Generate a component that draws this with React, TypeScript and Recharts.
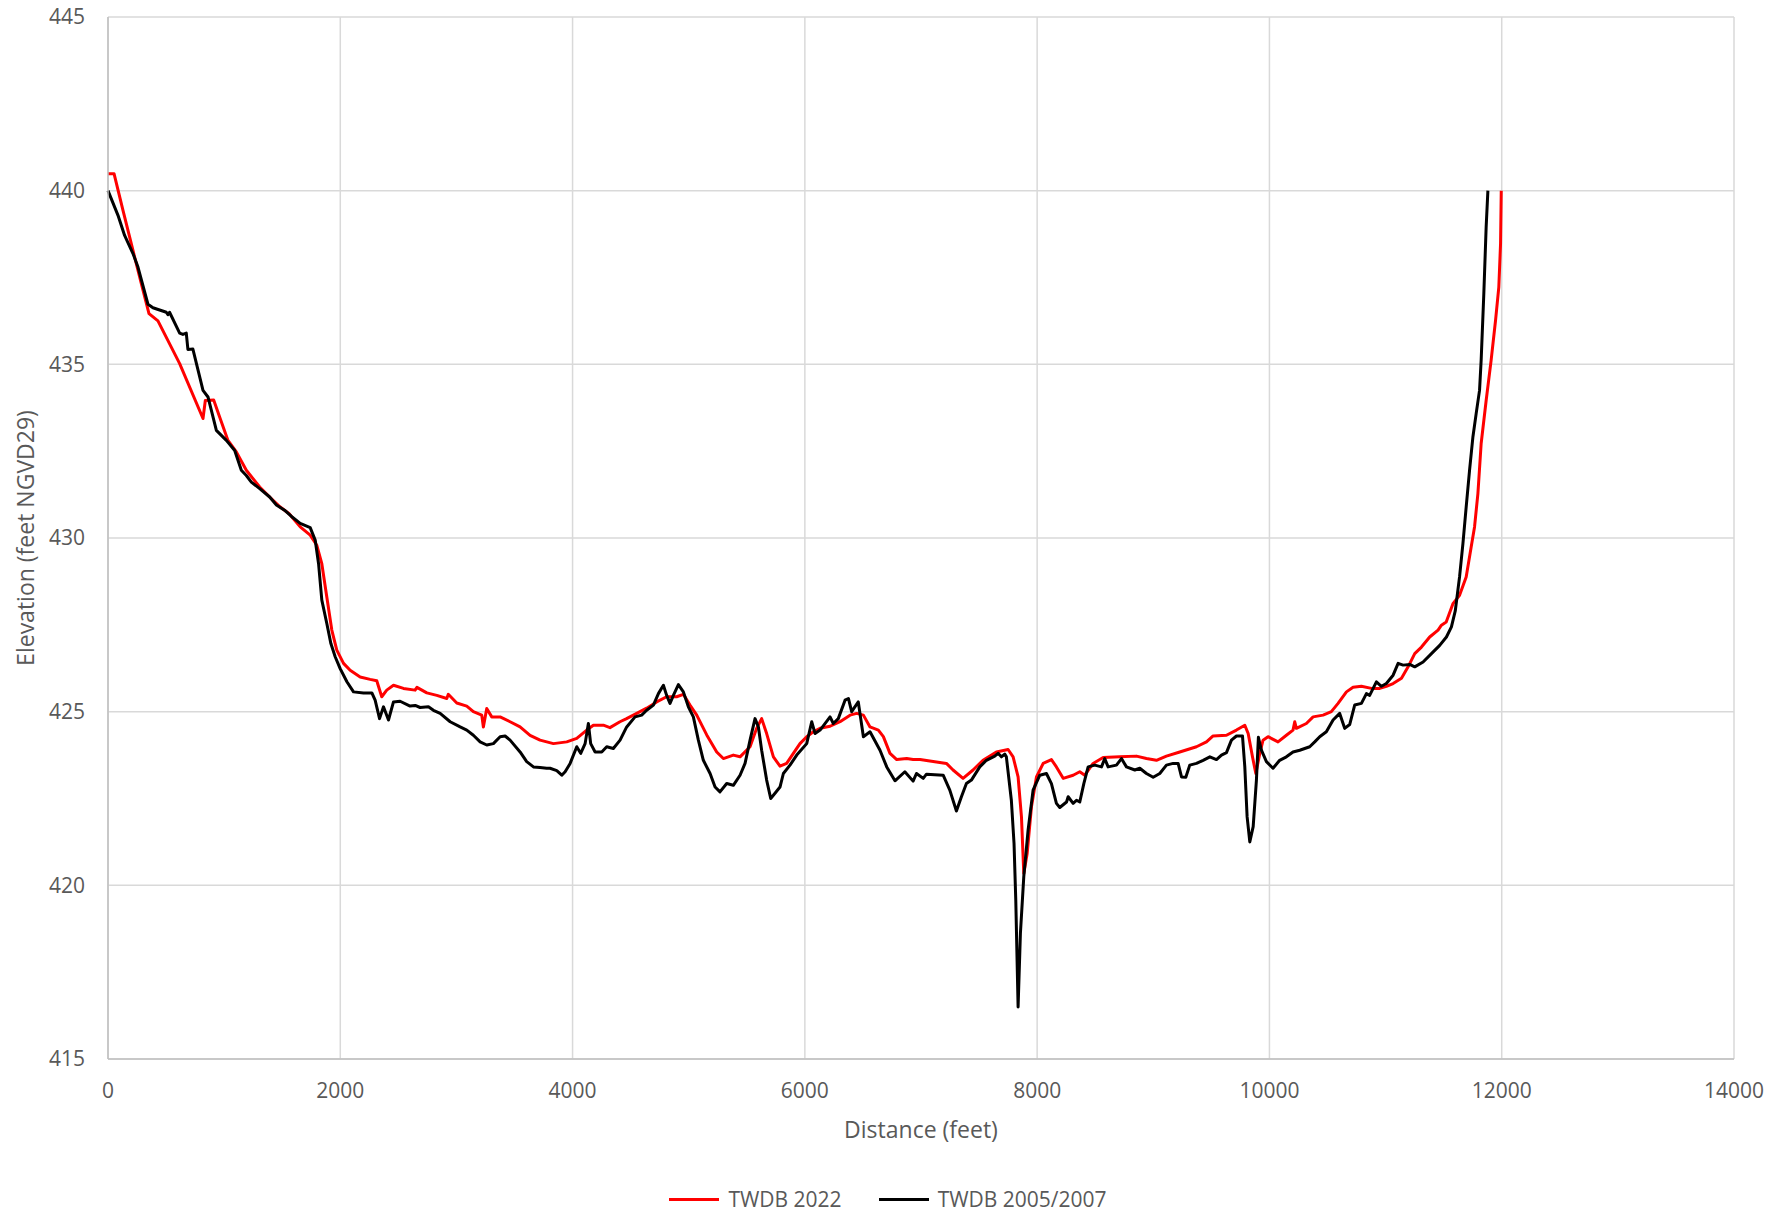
import React from 'react';
import { LineChart, Line, XAxis, YAxis, CartesianGrid, Legend } from 'recharts';

const FONT = '"Open Sans", "Noto Sans", sans-serif';
const TEXT = '#595959';

const X_TICKS = [0, 2000, 4000, 6000, 8000, 10000, 12000, 14000];
const Y_TICKS = [415, 420, 425, 430, 435, 440, 445];
const SERIES_NAMES = ['TWDB 2022', 'TWDB 2005/2007'];
const SERIES_COLORS = ['#ff0000', '#000000'];

const dist2022 = [
  0, 52, 129, 215, 287, 353, 430, 617, 818, 838, 910, 962, 1033, 1105, 1191, 1306, 1392, 1480, 1560, 1655,
  1741, 1798, 1841, 1884, 1927, 1970, 2028, 2085, 2171, 2257, 2314, 2357, 2400, 2458, 2544, 2644, 2660, 2745,
  2831, 2917, 2930, 3003, 3089, 3146, 3218, 3232, 3261, 3304, 3376, 3462, 3548, 3634, 3720, 3835, 3950, 4036,
  4122, 4179, 4265, 4322, 4408, 4465, 4552, 4638, 4724, 4810, 4896, 4954, 5011, 5069, 5155, 5241, 5298, 5384,
  5442, 5528, 5585, 5628, 5671, 5729, 5786, 5843, 5901, 5958, 6016, 6073, 6131, 6217, 6303, 6389, 6446, 6504,
  6561, 6633, 6676, 6733, 6791, 6877, 6932, 6992, 7076, 7219, 7276, 7362, 7448, 7534, 7649, 7750, 7793, 7836,
  7865, 7885, 7914, 7951, 7994, 8052, 8123, 8166, 8224, 8310, 8367, 8410, 8482, 8568, 8711, 8855, 8941, 9027,
  9113, 9228, 9372, 9458, 9515, 9630, 9716, 9788, 9817, 9854, 9883, 9917, 9945, 9988, 10074, 10146, 10203,
  10218, 10232, 10318, 10376, 10462, 10533, 10591, 10663, 10720, 10792, 10878, 10950, 11007, 11065, 11137,
  11194, 11251, 11309, 11380, 11452, 11481, 11522, 11580, 11637, 11694, 11737, 11766, 11795, 11823, 11866,
  11909, 11947, 11975, 11990, 11996,
];
const elev2022 = [
  440.49, 440.49, 439.43, 438.28, 437.32, 436.46, 436.25, 435.02, 433.44, 433.96, 433.97, 433.48, 432.81, 432.48,
  431.95, 431.47, 431.18, 430.9, 430.7, 430.32, 430.08, 429.79, 429.26, 428.3, 427.35, 426.77, 426.39, 426.19,
  426.0, 425.93, 425.89, 425.43, 425.62, 425.76, 425.67, 425.62, 425.7, 425.54, 425.47, 425.38, 425.5, 425.25,
  425.16, 425.0, 424.9, 424.56, 425.09, 424.85, 424.85, 424.71, 424.56, 424.32, 424.18, 424.08, 424.13, 424.23,
  424.47, 424.61, 424.61, 424.54, 424.71, 424.8, 424.95, 425.1, 425.28, 425.43, 425.43, 425.5, 425.19, 424.9,
  424.33, 423.84, 423.65, 423.75, 423.7, 423.99, 424.52, 424.8, 424.37, 423.7, 423.43, 423.51, 423.8, 424.08,
  424.28, 424.42, 424.52, 424.58, 424.71, 424.9, 424.95, 424.9, 424.56, 424.47, 424.28, 423.8, 423.62, 423.65,
  423.62, 423.62, 423.58, 423.51, 423.32, 423.08, 423.32, 423.6, 423.84, 423.91, 423.7, 423.12, 421.97, 420.34,
  420.92, 422.26, 423.12, 423.51, 423.62, 423.41, 423.08, 423.17, 423.27, 423.17, 423.51, 423.68, 423.7, 423.72,
  423.65, 423.6, 423.72, 423.84, 423.99, 424.13, 424.3, 424.32, 424.47, 424.61, 424.37, 423.7, 423.22, 423.8,
  424.18, 424.28, 424.13, 424.32, 424.47, 424.71, 424.52, 424.66, 424.85, 424.9, 425.0, 425.24, 425.57, 425.7,
  425.73, 425.67, 425.67, 425.73, 425.81, 425.96, 426.29, 426.67, 426.86, 427.15, 427.35, 427.49, 427.58, 428.11,
  428.35, 428.88, 429.74, 430.32, 431.28, 432.72, 433.96, 435.12, 436.27, 437.22, 438.47, 440.0,
];

const dist2005 = [
  0, 86, 143, 215, 258, 344, 387, 502, 516, 530, 617, 645, 674, 688, 731, 818, 861, 933, 1019, 1091, 1148, 1191,
  1234, 1306, 1392, 1450, 1520, 1580, 1655, 1741, 1784, 1813, 1841, 1884, 1919, 1956, 1999, 2057, 2114, 2200,
  2272, 2300, 2338, 2372, 2415, 2458, 2515, 2601, 2645, 2687, 2759, 2802, 2860, 2946, 3032, 3089, 3146, 3204,
  3261, 3318, 3376, 3419, 3462, 3548, 3605, 3663, 3720, 3777, 3806, 3864, 3907, 3936, 3979, 4036, 4070, 4108,
  4136, 4156, 4194, 4251, 4294, 4351, 4409, 4466, 4538, 4595, 4638, 4696, 4739, 4782, 4810, 4839, 4868, 4911,
  4954, 4997, 5040, 5083, 5126, 5184, 5227, 5269, 5327, 5384, 5442, 5485, 5528, 5571, 5600, 5628, 5671, 5706,
  5743, 5786, 5815, 5872, 5930, 6016, 6059, 6088, 6131, 6217, 6245, 6288, 6346, 6375, 6403, 6460, 6504, 6561,
  6647, 6705, 6776, 6861, 6932, 6961, 7019, 7047, 7191, 7248, 7305, 7348, 7391, 7434, 7506, 7563, 7635, 7664,
  7692, 7721, 7735, 7778, 7801, 7816, 7836, 7856, 7885, 7922, 7965, 8023, 8080, 8123, 8166, 8195, 8253, 8267,
  8310, 8339, 8367, 8402, 8439, 8496, 8554, 8582, 8611, 8683, 8726, 8769, 8841, 8884, 8941, 8999, 9056, 9113,
  9171, 9214, 9243, 9280, 9314, 9372, 9429, 9487, 9544, 9587, 9630, 9673, 9716, 9768, 9788, 9808, 9831, 9860,
  9888, 9905, 9931, 9974, 10031, 10088, 10146, 10203, 10261, 10347, 10390, 10433, 10490, 10548, 10605, 10648,
  10691, 10734, 10792, 10835, 10863, 10921, 10964, 11007, 11065, 11108, 11151, 11208, 11251, 11323, 11395,
  11466, 11524, 11567, 11600, 11637, 11666, 11694, 11723, 11752, 11780, 11809, 11823, 11846, 11866, 11881,
];
const elev2005 = [
  440.0, 439.29, 438.71, 438.19, 437.8, 436.73, 436.63, 436.5, 436.43, 436.5, 435.9, 435.86, 435.9, 435.43,
  435.44, 434.25, 434.06, 433.1, 432.81, 432.52, 431.95, 431.8, 431.61, 431.42, 431.18, 430.95, 430.8, 430.62,
  430.42, 430.3, 429.94, 429.26, 428.21, 427.54, 426.96, 426.58, 426.24, 425.86, 425.57, 425.54, 425.54, 425.33,
  424.8, 425.14, 424.76, 425.28, 425.3, 425.16, 425.18, 425.12, 425.14, 425.04, 424.95, 424.71, 424.56, 424.47,
  424.32, 424.13, 424.04, 424.08, 424.28, 424.3, 424.18, 423.84, 423.56, 423.41, 423.39, 423.37, 423.37, 423.3,
  423.17, 423.27, 423.51, 423.99, 423.8, 424.08, 424.66, 424.08, 423.84, 423.84, 423.99, 423.94, 424.18, 424.56,
  424.85, 424.9, 425.04, 425.19, 425.52, 425.76, 425.47, 425.24, 425.47, 425.78, 425.57, 425.14, 424.85, 424.18,
  423.6, 423.22, 422.83, 422.69, 422.93, 422.88, 423.17, 423.51, 424.18, 424.8, 424.56, 423.89, 423.03, 422.5,
  422.65, 422.83, 423.22, 423.46, 423.75, 424.08, 424.71, 424.37, 424.47, 424.85, 424.66, 424.8, 425.33, 425.38,
  425.0, 425.28, 424.28, 424.42, 423.89, 423.41, 423.01, 423.27, 423.0, 423.22, 423.08, 423.2, 423.17, 422.74,
  422.14, 422.55, 422.93, 423.03, 423.41, 423.6, 423.72, 423.8, 423.7, 423.78, 423.7, 422.45, 421.21, 419.58,
  416.5, 418.62, 420.25, 421.59, 422.74, 423.17, 423.22, 422.93, 422.36, 422.24, 422.4, 422.55, 422.36, 422.45,
  422.4, 422.93, 423.41, 423.46, 423.41, 423.65, 423.41, 423.46, 423.65, 423.41, 423.32, 423.37, 423.22, 423.11,
  423.22, 423.46, 423.51, 423.51, 423.12, 423.11, 423.46, 423.51, 423.6, 423.7, 423.62, 423.75, 423.82, 424.18,
  424.3, 424.3, 423.41, 421.97, 421.25, 421.69, 423.03, 424.26, 423.89, 423.56, 423.37, 423.6, 423.7, 423.84,
  423.89, 423.99, 424.13, 424.28, 424.42, 424.76, 424.95, 424.52, 424.63, 425.19, 425.24, 425.52, 425.47, 425.86,
  425.73, 425.81, 426.05, 426.39, 426.34, 426.36, 426.29, 426.43, 426.67, 426.91, 427.15, 427.44, 427.9, 428.88,
  429.84, 430.89, 431.95, 432.91, 433.58, 434.25, 435.12, 437.04, 438.95, 440.0,
];

const toPoints = (xs: number[], ys: number[]) => xs.map((x, i) => ({ distance: x, elevation: ys[i] }));
const data2022 = toPoints(dist2022, elev2022);
const data2005 = toPoints(dist2005, elev2005);

const LegendContent = () => (
  <div
    style={{
      display: 'flex',
      justifyContent: 'center',
      alignItems: 'center',
      height: 40,
      paddingLeft: 42,
      fontFamily: FONT,
      fontSize: 21,
      color: TEXT,
    }}
  >
    {SERIES_NAMES.map((name, i) => (
      <div key={name} style={{ display: 'flex', alignItems: 'center', marginLeft: i === 0 ? 0 : 37 }}>
        <div style={{ width: 50, height: 3, background: SERIES_COLORS[i], marginRight: 9 }} />
        <span>{name}</span>
      </div>
    ))}
  </div>
);

export default function App() {
  return (
    <div style={{ position: 'absolute', left: 0, top: 0, width: 1787, height: 1219, background: '#ffffff' }}>
      <LineChart width={1787} height={1219} margin={{ top: 17, right: 53, bottom: 0, left: 0 }}>
        <CartesianGrid stroke="#d9d9d9" strokeWidth={1.5} />
        <XAxis
          type="number"
          dataKey="distance"
          domain={[0, 14000]}
          ticks={X_TICKS}
          interval={0}
          height={120}
          tickSize={0}
          tickMargin={24}
          axisLine={{ stroke: '#bfbfbf', strokeWidth: 1.5 }}
          tick={{ fill: TEXT, fontSize: 21, fontFamily: FONT }}
          allowDuplicatedCategory={false}
          label={{
            content: (props: any) => {
              const vb = props.viewBox || { x: 108, y: 1059, width: 1626 };
              return (
                <text
                  x={vb.x + vb.width / 2}
                  y={vb.y + 79}
                  textAnchor="middle"
                  fill={TEXT}
                  fontSize={23}
                  fontFamily={FONT}
                >
                  Distance (feet)
                </text>
              );
            },
          }}
        />
        <YAxis
          type="number"
          domain={[415, 445]}
          ticks={Y_TICKS}
          interval={0}
          width={108}
          tickSize={0}
          tickMargin={23}
          axisLine={{ stroke: '#bfbfbf', strokeWidth: 1.5 }}
          tick={{ fill: TEXT, fontSize: 21, fontFamily: FONT }}
          label={{
            content: (props: any) => {
              const vb = props.viewBox || { x: 0, y: 17, width: 108, height: 1042 };
              const cx = vb.x + 25;
              const cy = vb.y + vb.height / 2;
              return (
                <text
                  x={cx}
                  y={cy}
                  transform={`rotate(-90, ${cx}, ${cy})`}
                  textAnchor="middle"
                  dominantBaseline="central"
                  fill={TEXT}
                  fontSize={23}
                  fontFamily={FONT}
                >
                  Elevation (feet NGVD29)
                </text>
              );
            },
          }}
        />
        <Legend verticalAlign="bottom" align="center" content={<LegendContent />} />
        <Line
          data={data2022}
          dataKey="elevation"
          name={SERIES_NAMES[0]}
          type="linear"
          stroke={SERIES_COLORS[0]}
          strokeWidth={3}
          strokeLinejoin="round"
          dot={false}
          activeDot={false}
          isAnimationActive={false}
        />
        <Line
          data={data2005}
          dataKey="elevation"
          name={SERIES_NAMES[1]}
          type="linear"
          stroke={SERIES_COLORS[1]}
          strokeWidth={3}
          strokeLinejoin="round"
          dot={false}
          activeDot={false}
          isAnimationActive={false}
        />
      </LineChart>
    </div>
  );
}
